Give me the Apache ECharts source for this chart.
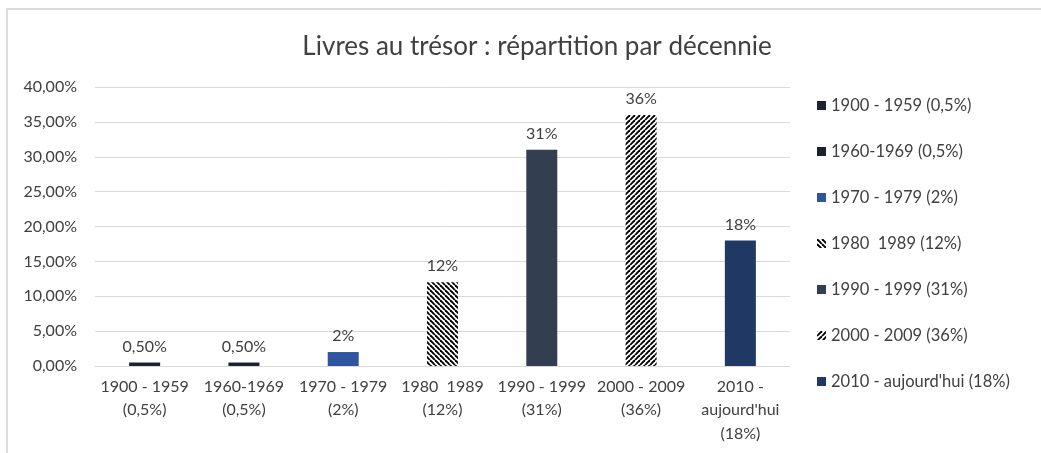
<!DOCTYPE html>
<html>
<head>
<meta charset="utf-8">
<script src="https://cdn.jsdelivr.net/npm/echarts@6/dist/echarts.min.js"></script>
<style>
  html, body { margin: 0; padding: 0; background: #fff; }
  #chart { width: 1041px; height: 453px; }
  #frame { position: absolute; left: 6px; top: 8px; width: 1100px; height: 500px;
           border-left: 2px solid #dcdcdc; border-top: 2px solid #dcdcdc; pointer-events: none; }
</style>
</head>
<body>
<div id="chart"></div>
<div id="frame"></div>
<script>
// données du graphique
const categories = ['1900 - 1959\n(0,5%)', '1960-1969\n(0,5%)', '1970 - 1979\n(2%)', '1980  1989\n(12%)',
  '1990 - 1999\n(31%)', '2000 - 2009\n(36%)', '2010 -\naujourd\'hui\n(18%)'];
const legendNames = ['1900 - 1959 (0,5%)', '1960-1969 (0,5%)', '1970 - 1979 (2%)', '1980  1989 (12%)',
  '1990 - 1999 (31%)', '2000 - 2009 (36%)', '2010 - aujourd\'hui (18%)'];
const values = [0.5, 0.5, 2, 12, 31, 36, 18];
const barLabels = ['0,50%', '0,50%', '2%', '12%', '31%', '36%', '18%'];

// motif hachuré (dir = 1 : "\\", dir = -1 : "//")
function stripes(dir) {
  const n = 5;
  const c = document.createElement('canvas');
  c.width = n; c.height = n;
  const ctx = c.getContext('2d');
  ctx.fillStyle = '#fff';
  ctx.fillRect(0, 0, n, n);
  ctx.strokeStyle = '#000';
  ctx.lineWidth = 1.9;
  for (let k = -1; k <= 1; k++) {
    ctx.beginPath();
    if (dir > 0) { ctx.moveTo(k * n, 0); ctx.lineTo(k * n + n, n); }
    else { ctx.moveTo(k * n + n, 0); ctx.lineTo(k * n, n); }
    ctx.stroke();
  }
  return { image: c, repeat: 'repeat' };
}

const colors = ['#1c2230', '#1c2230', '#2f55a0', stripes(1), '#333f50', stripes(-1), '#1f3864'];

const chart = echarts.init(document.getElementById('chart'));
const txt = '#404040';
const font = 'Lato, "Open Sans", sans-serif';

const series = values.map((v, i) => ({
  name: legendNames[i],
  type: 'bar',
  stack: 'tout',
  barWidth: 31,
  data: values.map((_, j) => (j === i ? v : null)),
  itemStyle: { color: colors[i] },
  label: {
    show: true, position: 'top', distance: 8,
    formatter: () => barLabels[i],
    color: txt, fontSize: 16, fontFamily: font
  }
}));

chart.setOption({
  animation: false,
  textStyle: { fontFamily: font },
  title: {
    text: 'Livres au trésor : répartition par décennie',
    left: 532, top: 29, textAlign: 'center',
    textStyle: { fontSize: 26, fontWeight: 'normal', color: txt, fontFamily: font }
  },
  legend: {
    orient: 'vertical', left: 812, top: 92,
    itemWidth: 9, itemHeight: 9, itemGap: 29,
    icon: 'rect',
    textStyle: { fontSize: 16.5, color: txt, fontFamily: font },
    data: legendNames
  },
  grid: { left: 95, right: 251, top: 87, bottom: 87 },
  xAxis: {
    type: 'category',
    data: categories,
    axisTick: { show: false },
    axisLine: { lineStyle: { color: '#d9d9d9' } },
    axisLabel: { color: txt, fontSize: 16, lineHeight: 23.5, margin: 9, interval: 0, fontFamily: font }
  },
  yAxis: {
    type: 'value', min: 0, max: 40, interval: 5,
    axisLine: { show: false },
    axisTick: { show: false },
    splitLine: { lineStyle: { color: '#d9d9d9' } },
    axisLabel: {
      color: txt, fontSize: 16, margin: 18, fontFamily: font,
      formatter: v => v.toFixed(2).replace('.', ',') + '%'
    }
  },
  series: series
});
</script>
</body>
</html>
